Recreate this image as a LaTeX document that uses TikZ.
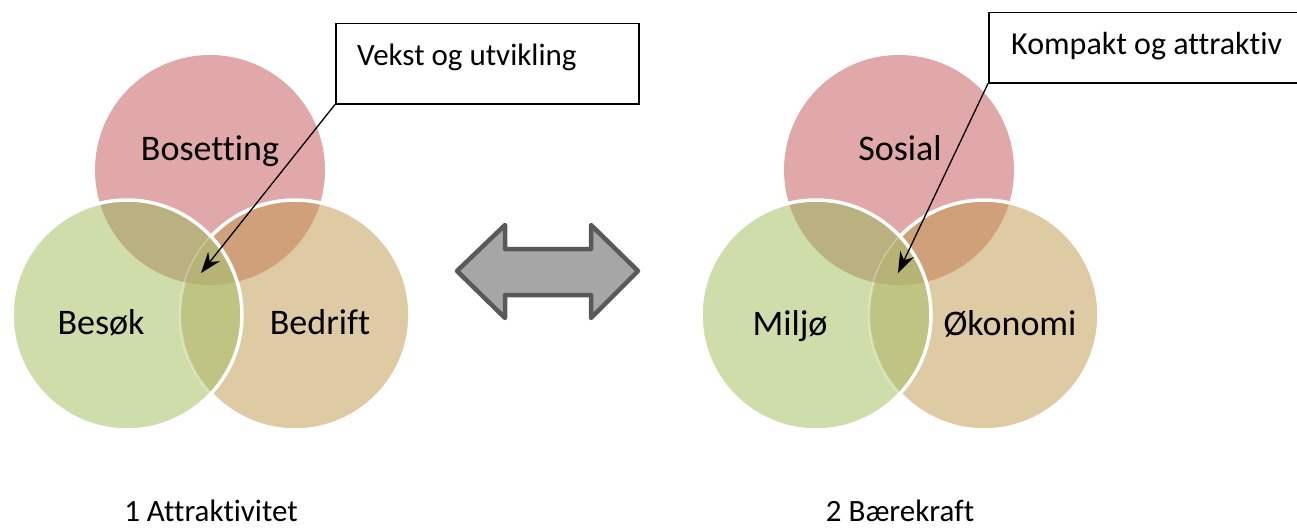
\documentclass[tikz,border=0pt]{standalone}
\usepackage{fontspec}
\setmainfont{Carlito}[Ligatures=NoCommon]
\usetikzlibrary{arrows.meta}
\definecolor{pinkC}{RGB}{224,168,168}
\definecolor{tanC}{RGB}{222,203,164}
\definecolor{greenC}{RGB}{206,221,170}
\definecolor{trC}{RGB}{207,160,122}
\definecolor{tlC}{RGB}{187,176,127}
\definecolor{lrC}{RGB}{191,196,130}
\definecolor{cC}{RGB}{183,178,118}
\definecolor{arrFill}{RGB}{166,166,166}
\definecolor{arrEdge}{RGB}{89,89,89}
\tikzset{
  vennlabel/.style={font=\fontsize{36}{40}\selectfont, anchor=base, inner sep=0pt},
  callout/.style={draw=black, line width=1.5pt, fill=white, inner sep=0pt, anchor=north west},
  callouttext/.style={font=\fontsize{31}{36}\selectfont, anchor=base west, inner sep=0pt},
  pointer/.style={-{Stealth[length=21pt,width=15pt]}, line width=1.3pt},
  captiontext/.style={font=\fontsize{31}{36}\selectfont, anchor=base, inner sep=0pt},
  whiteedge/.style={white, line width=3.5pt},
  bigarrow/.style={fill=arrFill, draw=arrEdge, line width=4.5pt, line join=round}
}
\newcommand\myvenn[1]{%
  \begin{scope}[xshift=#1pt]
    \fill[pinkC] (210,170) circle (115pt);
    \fill[tanC] (295,315) circle (115pt);
    \begin{scope}
      \clip (210,170) circle (115pt);
      \fill[trC] (295,315) circle (115pt);
    \end{scope}
    \draw[whiteedge] (295,315) circle (115pt);
    \fill[greenC] (127,315) circle (115pt);
    \begin{scope}
      \clip (127,315) circle (115pt);
      \fill[tlC] (210,170) circle (115pt);
      \fill[lrC] (295,315) circle (115pt);
      \draw[white, opacity=0.35, line width=2.5pt] (295,315) circle (115pt);
      \clip (210,170) circle (115pt);
      \fill[cC] (295,315) circle (115pt);
    \end{scope}
    \draw[whiteedge] (127,315) circle (115pt);
  \end{scope}}
\begin{document}
\begin{tikzpicture}[x=1pt, y=-1pt]
  \useasboundingbox (0,0) rectangle (1297,527);
  \fill[white] (0,0) rectangle (1297,527);

  % left Venn
  \myvenn{0}
  \node[vennlabel] (bosetting) at (210,160) {Bosetting};
  \node[vennlabel] (besok) at (101,334) {Besøk};
  \node[vennlabel] (bedrift) at (320,334) {Bedrift};

  % right Venn
  \myvenn{689}
  \node[vennlabel] (sosial) at (900,160) {Sosial};
  \node[vennlabel] (miljo) at (790,335) {Miljø};
  \node[vennlabel] (okonomi) at (1010,335) {Økonomi};

  % double arrow
  \draw[bigarrow] (457,271) -- (505,225) -- (505,249) -- (591,249) -- (591,225)
    -- (638,271) -- (591,318) -- (591,295) -- (505,295) -- (505,318) -- cycle;

  % callouts
  \node[callout, minimum width=303pt, minimum height=80pt] (boxL) at (335,23) {};
  \node[callouttext] (txtL) at (357,66) {Vekst og utvikling};
  \coordinate (tipL) at (201,273);
  \draw[pointer] (boxL.south west) -- (tipL);

  \node[callout, minimum width=320pt, minimum height=70pt] (boxR) at (988,12) {};
  \node[callouttext, font=\fontsize{32}{36}\selectfont] (txtR) at (1011,55) {Kompakt og attraktiv};
  \coordinate (tipR) at (898,273);
  \draw[pointer] (boxR.south west) -- (tipR);

  % captions
  \node[captiontext] (capL) at (211,521) {1 Attraktivitet};
  \node[captiontext] (capR) at (900,521) {2 Bærekraft};
\end{tikzpicture}
\end{document}
